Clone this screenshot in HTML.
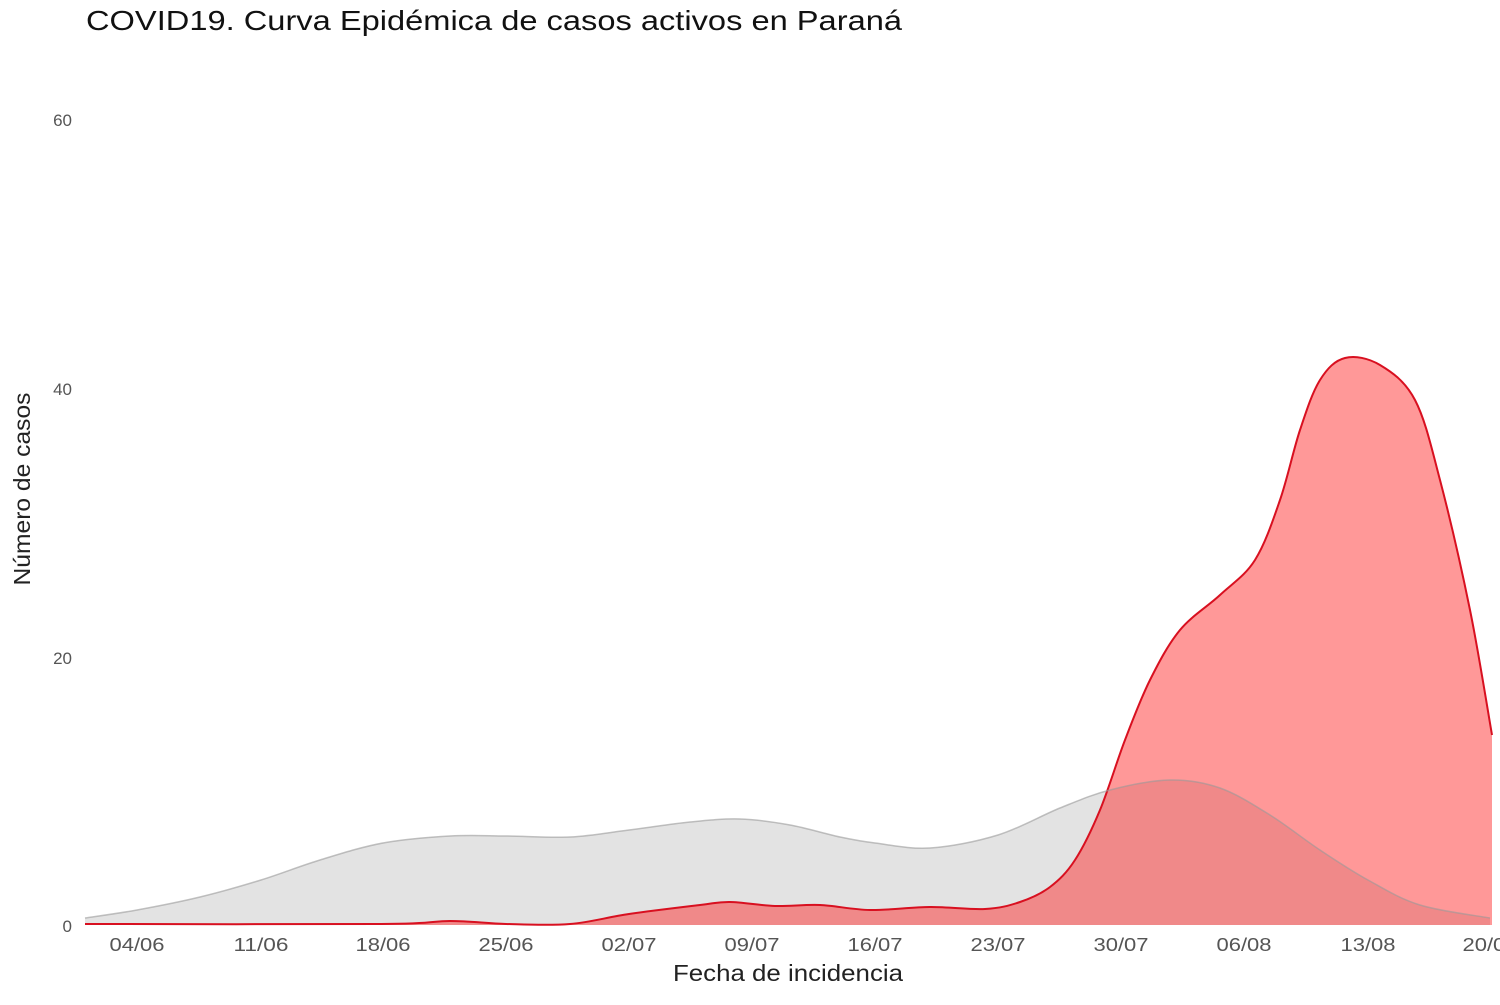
<!DOCTYPE html>
<html><head><meta charset="utf-8"><style>
body{margin:0;background:#fff;width:1500px;height:1000px;overflow:hidden;font-family:"Liberation Sans",sans-serif}
</style></head><body>
<svg id="s" width="1500" height="1000" xmlns="http://www.w3.org/2000/svg" font-family="Liberation Sans, sans-serif">
<text x="86" y="30" font-size="28" fill="#111" textLength="816" lengthAdjust="spacingAndGlyphs">COVID19. Curva Epidémica de casos activos en Paraná</text>
<g font-size="17" fill="#555" text-anchor="end">
<text x="72" y="126">60</text><text x="72" y="395">40</text><text x="72" y="664">20</text><text x="72" y="932">0</text>
</g>
<g font-size="18" fill="#555" text-anchor="middle">
<text x="137" y="951" textLength="55" lengthAdjust="spacingAndGlyphs">04/06</text><text x="261" y="951" textLength="55" lengthAdjust="spacingAndGlyphs">11/06</text><text x="383" y="951" textLength="55" lengthAdjust="spacingAndGlyphs">18/06</text><text x="506" y="951" textLength="55" lengthAdjust="spacingAndGlyphs">25/06</text><text x="629" y="951" textLength="55" lengthAdjust="spacingAndGlyphs">02/07</text><text x="752" y="951" textLength="55" lengthAdjust="spacingAndGlyphs">09/07</text><text x="875" y="951" textLength="55" lengthAdjust="spacingAndGlyphs">16/07</text><text x="998" y="951" textLength="55" lengthAdjust="spacingAndGlyphs">23/07</text><text x="1121" y="951" textLength="55" lengthAdjust="spacingAndGlyphs">30/07</text><text x="1244" y="951" textLength="55" lengthAdjust="spacingAndGlyphs">06/08</text><text x="1368" y="951" textLength="55" lengthAdjust="spacingAndGlyphs">13/08</text><text x="1490" y="951" textLength="55" lengthAdjust="spacingAndGlyphs">20/08</text>
</g>
<text x="788" y="981" font-size="23" fill="#222" text-anchor="middle" textLength="230" lengthAdjust="spacingAndGlyphs">Fecha de incidencia</text>
<text transform="translate(30,489) rotate(-90)" font-size="23" fill="#222" text-anchor="middle" textLength="193" lengthAdjust="spacingAndGlyphs">Número de casos</text>
<path id="gf" fill="#e3e3e3" stroke="none"/>
<path id="rf" fill="#ff1a1a" fill-opacity="0.45" stroke="none"/>
<path id="rl" fill="none" stroke="#d81020" stroke-width="2"/>
<path id="gl" fill="none" stroke="#999" stroke-opacity="0.6" stroke-width="1.5"/>
</svg>
<script>
var g=[[85,918],[137,910],[200,897],[261,880],[320,860],[383,843],[450,836],[506,836],[570,837],[629,830],[690,822],[740,819],[790,825],[840,837],[875,843],[930,848],[998,835],[1060,808],[1110,790],[1170,780],[1220,788],[1270,815],[1320,850],[1368,880],[1420,905],[1490,918]];
var r=[[85,924],[380,924],[450,921],[506,924],[570,924],[629,914],[700,905],[730,902],[775,906],[820,905],[870,910],[930,907],[985,909],[1020,902],[1050,887],[1075,860],[1100,810],[1125,740],[1150,680],[1180,630],[1220,595],[1255,560],[1280,500],[1300,430],[1320,380],[1345,358],[1380,365],[1415,400],[1440,480],[1470,610],[1492,735]];
function cr(p){var d="M"+p[0][0]+","+p[0][1];for(var i=0;i<p.length-1;i++){var a=p[i-1]||p[i],b=p[i],c=p[i+1],e=p[i+2]||c;d+=" C"+(b[0]+(c[0]-a[0])/6)+","+(b[1]+(c[1]-a[1])/6)+" "+(c[0]-(e[0]-b[0])/6)+","+(c[1]-(e[1]-b[1])/6)+" "+c[0]+","+c[1];}return d;}
var gd=cr(g),rd=cr(r);
document.getElementById('gf').setAttribute('d',gd+" L1490,925 L85,925Z");
document.getElementById('gl').setAttribute('d',gd);
document.getElementById('rf').setAttribute('d',rd+" L1492,925 L85,925Z");
document.getElementById('rl').setAttribute('d',rd);
</script>
</body></html>
